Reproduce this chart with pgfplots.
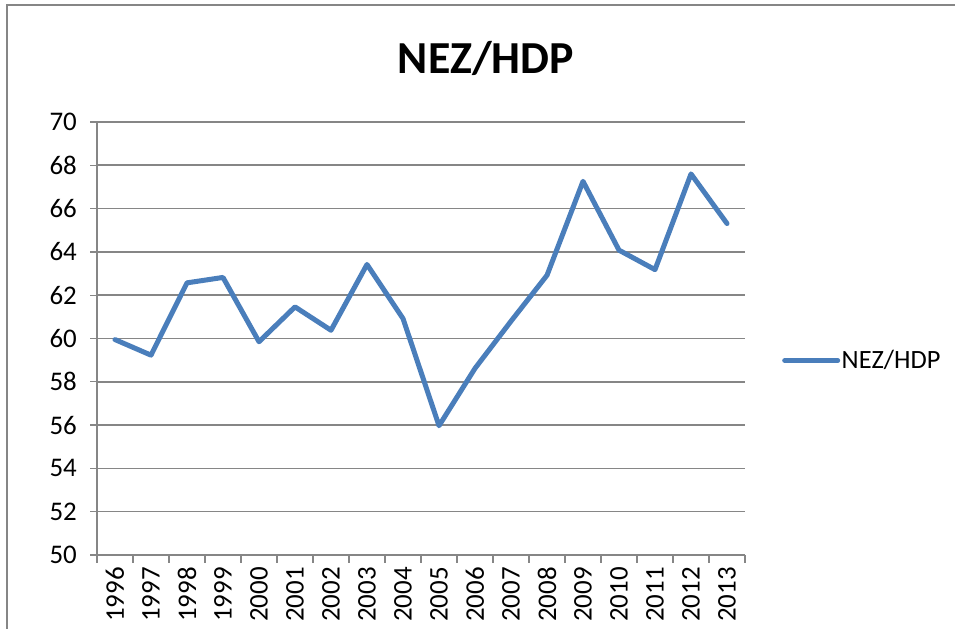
\documentclass[border=0pt]{standalone}
\usepackage{pgfplots}
\pgfplotsset{compat=1.18}
\usepackage{fontspec}
\setmainfont{Carlito}
\definecolor{serieblue}{HTML}{4A7EBB}
\definecolor{gridgray}{HTML}{868686}
\pgfplotstableread{
x val
1 59.95
2 59.23
3 62.57
4 62.82
5 59.85
6 61.46
7 60.38
8 63.42
9 60.92
10 55.97
11 58.62
12 60.80
13 62.92
14 67.26
15 64.08
16 63.18
17 67.60
18 65.31
}\datatable
\begin{document}
\begin{tikzpicture}[x=1bp,y=1bp]
\useasboundingbox (0,0) rectangle (955,629);
\draw[gridgray, line width=1.5bp] (7,-5) -- (7,624) -- (960,624);
\node[font=\bfseries\fontsize{46}{54}\selectfont] at (486,571) {NEZ/HDP};
\begin{axis}[
  at={(97bp,74bp)}, anchor=south west,
  scale only axis, width=648bp, height=433bp,
  xmin=0.5, xmax=18.5, ymin=50, ymax=70,
  axis lines=left, axis line style={-, gridgray, line width=1.3bp},
  xtick={1,...,18},
  xticklabels={1996,1997,1998,1999,2000,2001,2002,2003,2004,2005,2006,2007,2008,2009,2010,2011,2012,2013},
  minor xtick={0.5,1.5,...,18.5},
  ytick={50,52,...,70},
  ymajorgrids, major grid style={gridgray, line width=1.6bp},
  tick align=outside,
  major x tick style={draw=none},
  minor tick length=8bp, major tick length=7bp,
  every tick/.style={gridgray, line width=1.3bp},
  /pgf/number format/assume math mode=true,
  tick label style={font=\fontsize{27}{31}\selectfont, text=black},
  yticklabel style={inner sep=0pt, xshift=-13bp},
  xticklabel style={rotate=90, anchor=east, inner sep=0pt},
  xticklabel shift=5bp,
  legend style={draw=none, fill=none, at={(1,0.5)}, anchor=west, xshift=37bp, yshift=-22bp,
    inner sep=0pt, font=\fontsize{26.5}{30}\selectfont, nodes={inner sep=1.5bp}},
  legend image code/.code={\draw[#1] (0bp,0bp) -- (53bp,0bp);},
  clip=false,
]
\addplot[serieblue, line width=5bp, line join=round, line cap=round] table[x=x, y=val] {\datatable};
\addlegendentry{NEZ/HDP}
\end{axis}
\end{tikzpicture}
\end{document}
